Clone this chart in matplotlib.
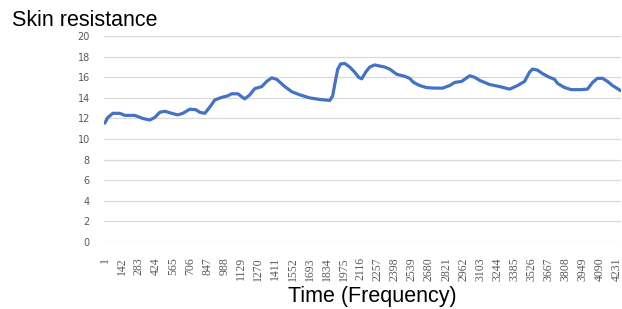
import matplotlib.pyplot as plt

# sample index and skin resistance
idx = [1, 26, 67, 125, 166, 249, 315, 373, 414, 455, 497, 554, 604, 645, 703,
       753, 786, 827, 868, 910, 967, 1017, 1050, 1100, 1157, 1199, 1240, 1298,
       1339, 1380, 1422, 1488, 1546, 1612, 1694, 1777, 1860, 1884, 1901, 1926,
       1950, 1983, 2025, 2066, 2099, 2124, 2157, 2190, 2231, 2314, 2355, 2413,
       2479, 2520, 2553, 2603, 2661, 2727, 2793, 2851, 2892, 2950, 3016, 3057,
       3099, 3181, 3264, 3346, 3412, 3470, 3511, 3536, 3577, 3619, 3676, 3718,
       3743, 3801, 3858, 3924, 3990, 4032, 4073, 4114, 4156, 4197, 4238, 4263]
resistance = [11.55, 12.1, 12.5, 12.5, 12.3, 12.3, 12.0, 11.85, 12.1, 12.6, 12.7,
              12.5, 12.35, 12.5, 12.9, 12.85, 12.6, 12.5, 13.1, 13.8, 14.05, 14.2,
              14.4, 14.4, 13.9, 14.3, 14.9, 15.1, 15.6, 15.95, 15.8, 15.1, 14.6,
              14.3, 14.0, 13.85, 13.75, 14.2, 15.3, 16.8, 17.3, 17.35, 17.0, 16.5,
              16.0, 15.85, 16.5, 17.0, 17.2, 17.0, 16.8, 16.3, 16.1, 15.9, 15.5,
              15.2, 15.0, 14.95, 14.95, 15.2, 15.5, 15.6, 16.15, 16.0, 15.7, 15.3,
              15.1, 14.85, 15.2, 15.6, 16.5, 16.8, 16.7, 16.35, 16.0, 15.8, 15.4,
              15.0, 14.8, 14.8, 14.85, 15.5, 15.9, 15.9, 15.6, 15.2, 14.9, 14.7]

xticks = list(range(1, 4232, 141))
yticks = list(range(0, 21, 2))

fig = plt.figure(figsize=(6.22, 3.09), dpi=100)
ax = fig.add_axes([0.167, 0.217, 0.831, 0.666])

ax.plot(idx, resistance, color='#4472C4', lw=2.3, solid_capstyle='round')

ax.set_xlim(-7, 4265)
ax.set_ylim(0, 20)
ax.set_yticks(yticks)
ax.set_xticks(xticks)
ax.set_xticklabels([str(t) for t in xticks], rotation=90, fontsize=8.5,
                   family='Liberation Serif', color='#595959')
ax.tick_params(axis='y', labelsize=7, labelcolor='#595959', length=0, pad=10)
ax.tick_params(axis='x', length=0, pad=11)
ax.grid(axis='y', color='#d9d9d9', lw=0.9)
ax.set_axisbelow(True)
for s in ax.spines.values():
    s.set_visible(False)

fig.text(0.019, 0.916, 'Skin resistance', fontsize=15.5, family='Liberation Sans',
         va='baseline')
fig.text(0.5985, 0.024, 'Time (Frequency)', fontsize=15.5, family='Liberation Sans',
         ha='center', va='baseline')

fig.savefig('out.png', dpi=100)
